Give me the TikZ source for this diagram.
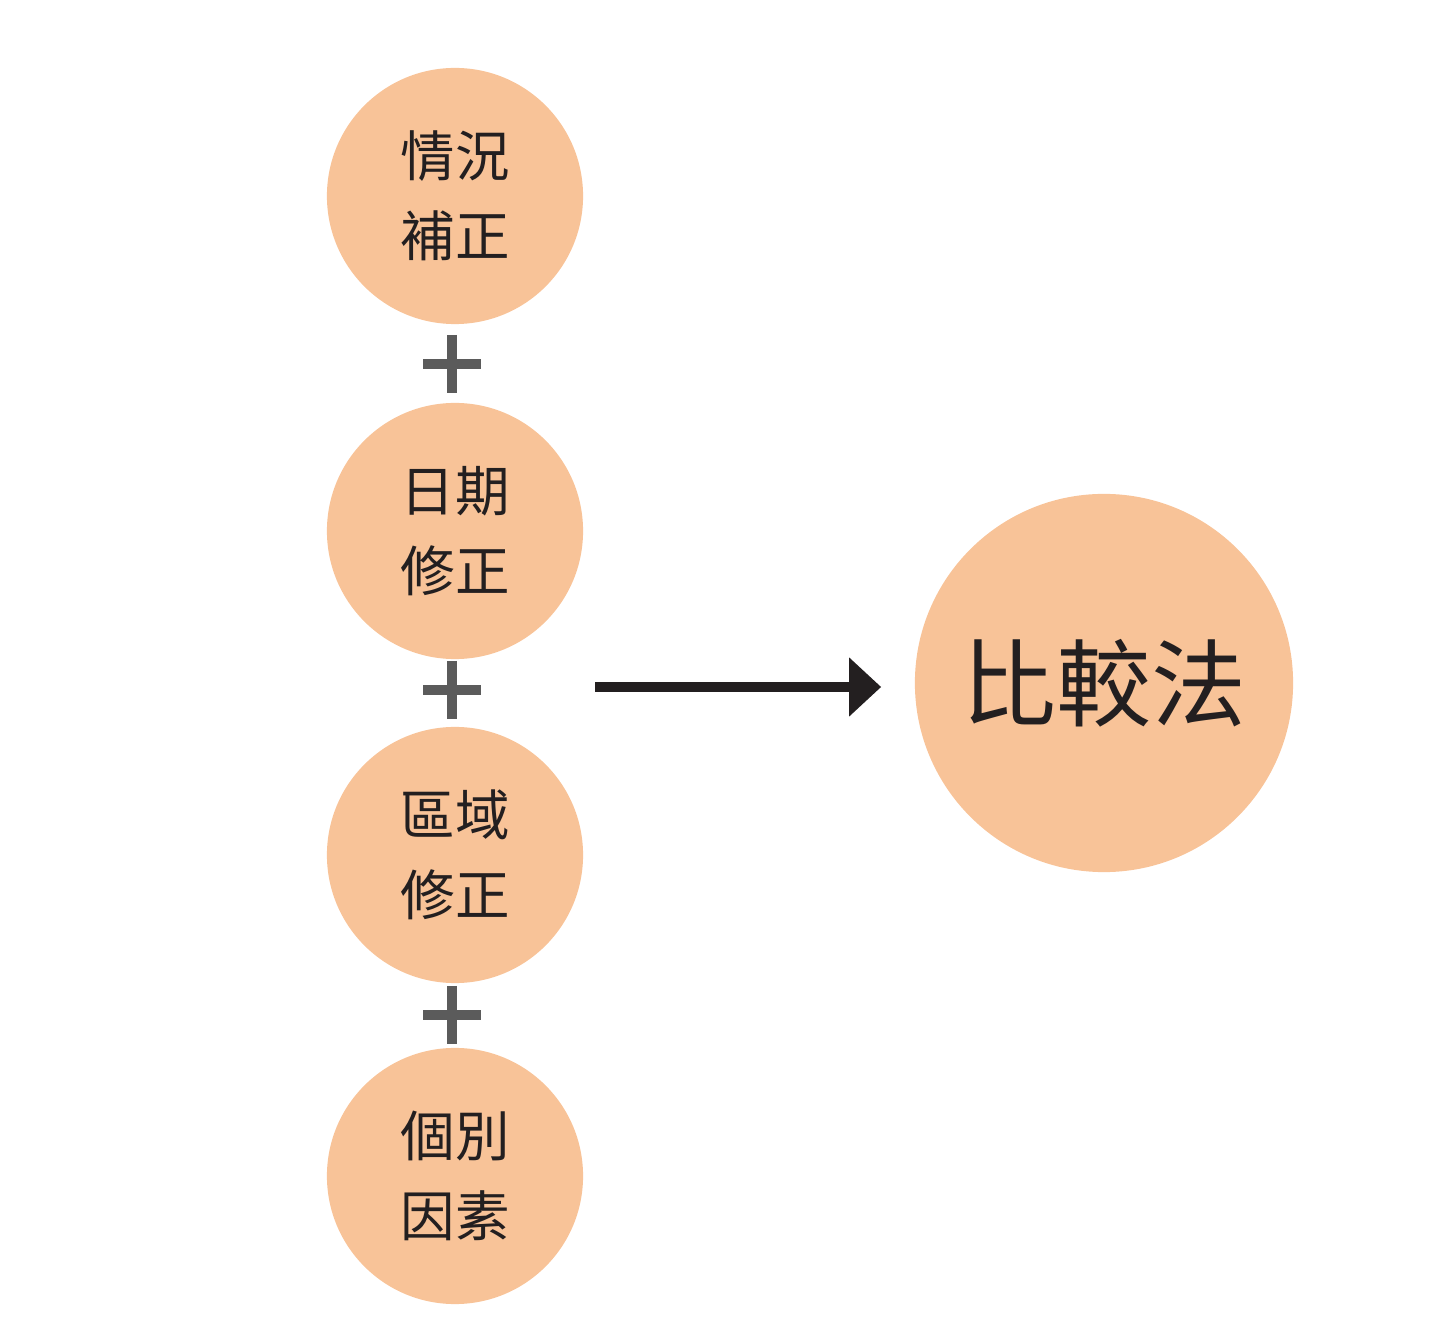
\documentclass[tikz,border=0pt]{standalone}
\usepackage{fontspec}
\newfontfamily\cjk{Noto Sans CJK TC}
\usetikzlibrary{arrows.meta,positioning}

\definecolor{peach}{HTML}{F8C398}
\definecolor{plusgray}{HTML}{5B5B5B}
\definecolor{ink}{HTML}{231F20}

\tikzset{
  step circle/.style={circle,fill=peach,minimum size=2.56cm,inner sep=0pt,
    align=center,text=ink,font=\cjk\fontsize{15.5}{22.7}\selectfont},
  result circle/.style={circle,fill=peach,minimum size=3.78cm,inner sep=0pt,
    text=ink,font=\cjk\fontsize{27}{30}\selectfont},
  plusline/.style={draw=plusgray,line width=2.8pt},
}

\begin{document}
\begin{tikzpicture}[x=0.01cm,y=-0.01cm]
        % canvas in pixels of the original (1448 x 1340)
        \useasboundingbox (0,0) rectangle (1448,1340);

        % the four factors
        \node[step circle] (situ) at (455,196)  {情況\\補正};
        \node[step circle] (date) at (455,531)  {日期\\修正};
        \node[step circle] (area) at (455,855)  {區域\\修正};
        \node[step circle] (indiv) at (455,1176) {個別\\因素};

        % result
        \node[result circle] (comp) at (1104,683) {比較法};

        % plus signs between the circles
        \coordinate (p1) at (452,364);
        \coordinate (p2) at (452,690);
        \coordinate (p3) at (452,1015);
        \foreach \p in {p1,p2,p3}
          \draw[plusline] (\p) ++(-29,0) -- ++(58,0) (\p) ++(0,-29) -- ++(0,58);

        % arrow to the result
        \coordinate (arrstart) at (595,687);
        \draw[ink,line width=2.8pt,-{Triangle[length=0.32cm,width=0.57cm]}]
          (arrstart) -- ([xshift=-0.33cm]arrstart -| comp.west);
      \end{tikzpicture}
\end{document}
